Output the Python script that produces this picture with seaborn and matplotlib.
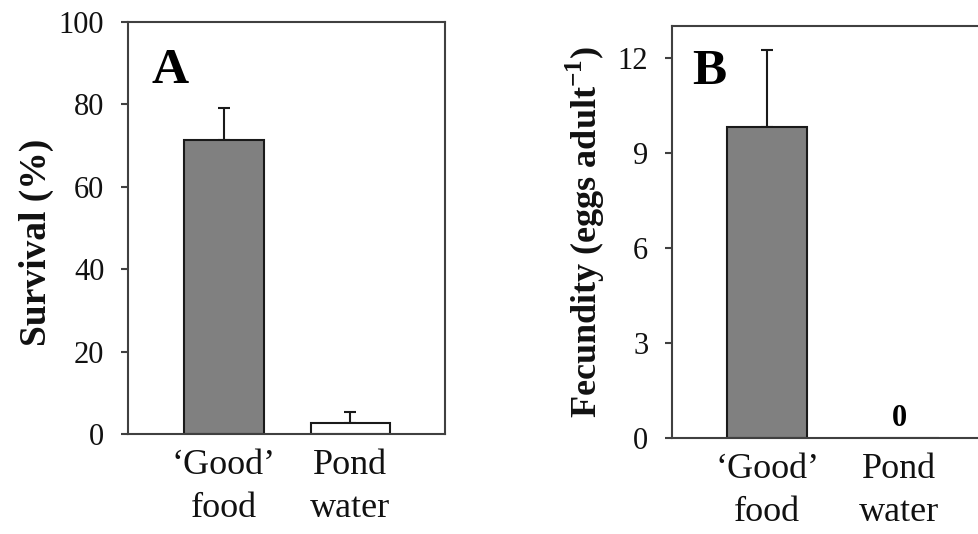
import numpy as np
import pandas as pd
import matplotlib
matplotlib.use("Agg")
import matplotlib.pyplot as plt
import seaborn as sns

# Treatments and measured means with standard errors
categories = ["\u2018Good\u2019\nfood", "Pond\nwater"]
survival_mean = [71.3, 2.7]
survival_err = [7.9, 2.6]
fecundity_mean = [9.8, 0.0]
fecundity_err = [2.45, 0.0]
survival_ticks = [0, 20, 40, 60, 80, 100]
fecundity_ticks = [0, 3, 6, 9, 12]
bar_colors = ["#808080", "#ffffff"]

sns.set_theme(style="white")
plt.rcParams["font.family"] = ["Liberation Serif", "DejaVu Serif"]
plt.rcParams["mathtext.fontset"] = "custom"
plt.rcParams["mathtext.rm"] = "Liberation Serif"
plt.rcParams["mathtext.bf"] = "Liberation Serif:bold"

fig = plt.figure(figsize=(9.79, 5.34), dpi=100)
axA = fig.add_axes([0.1307, 0.1873, 0.3238, 0.7715])
axB = fig.add_axes([0.6864, 0.1798, 0.3197, 0.7715])

spine_color = "#404040"
tick_color = "#111111"


def draw_panel(ax, means, errs, width, ylim, yticks, xlim, ylabel, ylabel_size,
               letter, letter_xy):
    df = pd.DataFrame({"group": categories, "value": means})
    sns.barplot(data=df, x="group", y="value", hue="group", palette=bar_colors,
                width=width, edgecolor="#1a1a1a", linewidth=1.5, legend=False, ax=ax,
                zorder=2)
    xs = np.arange(len(means))
    for x, m, e in zip(xs, means, errs):
        if e > 0:
            ax.errorbar([x], [m], yerr=[[0], [e]], fmt="none", ecolor="#1a1a1a",
                        elinewidth=1.5, capsize=4.5, capthick=1.5, zorder=1)
    ax.set_xlim(*xlim)
    ax.set_ylim(*ylim)
    ax.set_yticks(yticks)
    ax.set_yticklabels([str(t) for t in yticks], fontsize=22, color=tick_color)
    ax.set_xticks(xs)
    ax.set_xticklabels(categories, fontsize=26, color="#111111", linespacing=1.38)
    ax.tick_params(axis="x", length=0, pad=11)
    ax.tick_params(axis="y", length=5, width=1.5, color=spine_color, pad=12,
                   direction="out", left=True)
    ax.set_xlabel("")
    ax.set_ylabel(ylabel, fontsize=ylabel_size, fontweight="bold", color="#111111",
                  labelpad=8)
    for s in ax.spines.values():
        s.set_color(spine_color)
        s.set_linewidth(1.5)
        s.set_visible(True)
    ax.text(letter_xy[0], letter_xy[1], letter, transform=ax.transAxes,
            fontsize=37, fontweight="bold", color="#000000", va="top", ha="left")


draw_panel(axA, survival_mean, survival_err, 0.63, (0, 100), survival_ticks,
           (-0.759, 1.747), "Survival (%)", 27, "A", (0.075, 0.937))
draw_panel(axB, fecundity_mean, fecundity_err, 0.60, (0, 13), fecundity_ticks,
           (-0.72, 1.65), r"Fecundity (eggs adult$^{\mathbf{-1}}$)", 26, "B",
           (0.063, 0.945))
axA.yaxis.set_label_coords(-0.233, 0.464)

# zero-value annotation for pond water fecundity
axB.text(1, fecundity_mean[1] + 0.15, f"{fecundity_mean[1]:.0f}", ha="center", va="bottom",
         fontsize=22, fontweight="bold", color="#000000")

fig.savefig("out.png", dpi=100, facecolor="white")
